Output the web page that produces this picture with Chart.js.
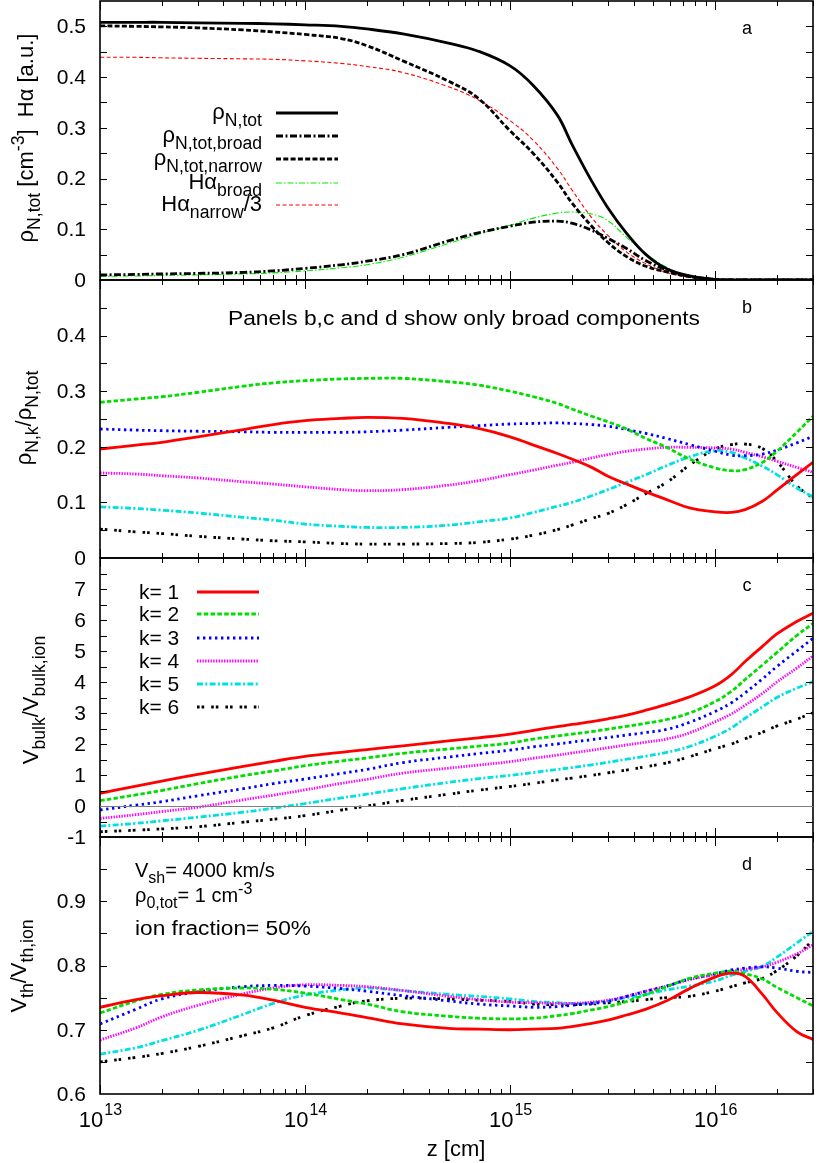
<!DOCTYPE html>
<html>
<head>
<meta charset="utf-8">
<script src="https://cdn.jsdelivr.net/npm/chart.js@4.4.1/dist/chart.umd.min.js"></script>
<style>
  body { margin: 0; background: #fff; }
  #wrap { position: relative; width: 830px; height: 1163px; }
  #wrap canvas { position: absolute; left: 0; top: 0; }
</style>
</head>
<body>
<div id="wrap">
  <canvas id="panelA" width="830" height="1163"></canvas>
  <canvas id="panelB" width="830" height="1163"></canvas>
  <canvas id="panelC" width="830" height="1163"></canvas>
  <canvas id="panelD" width="830" height="1163"></canvas>
</div>
<script>
// z positions (cm) shared by every curve
var zGrid = [1e13, 1.5e13, 2e13, 3e13, 5e13, 7e13,
             1e14, 1.5e14, 2e14, 3e14, 5e14, 7e14,
             1e15, 1.3e15, 1.7e15, 2e15, 2.5e15, 3e15, 3.7e15, 4.6e15, 5.8e15, 7.5e15,
             1e16, 1.2e16, 1.4e16, 1.7e16, 2e16, 2.5e16, 3e16];

// panel a
var rhoTot    = [0.508,0.508,0.508,0.507,0.506,0.505,0.503,0.500,0.495,0.485,0.467,0.451,0.422,0.383,0.325,0.268,0.195,0.142,0.092,0.050,0.022,0.008,0.001,0,0,0,0,0,0];
var rhoBroad  = [0.010,0.011,0.012,0.013,0.015,0.018,0.023,0.030,0.037,0.050,0.077,0.093,0.106,0.114,0.116,0.112,0.098,0.082,0.062,0.038,0.020,0.007,0.001,0,0,0,0,0,0];
var rhoNarrow = [0.501,0.500,0.499,0.497,0.493,0.489,0.484,0.476,0.462,0.432,0.392,0.358,0.294,0.249,0.193,0.152,0.106,0.074,0.046,0.027,0.016,0.007,0.001,0,0,0,0,0,0];
var haBroad   = [0.007,0.008,0.009,0.010,0.012,0.014,0.018,0.024,0.030,0.045,0.072,0.090,0.108,0.122,0.132,0.134,0.130,0.117,0.084,0.052,0.025,0.008,0.001,0,0,0,0,0,0];
var haNarrow3 = [0.439,0.439,0.438,0.437,0.436,0.435,0.432,0.427,0.421,0.409,0.381,0.355,0.314,0.275,0.220,0.178,0.123,0.088,0.055,0.032,0.015,0.005,0.001,0,0,0,0,0,0];

// panel b: rho_N,k / rho_N,tot
var fracK1 = [0.196,0.203,0.208,0.218,0.231,0.240,0.247,0.251,0.253,0.251,0.242,0.233,0.218,0.203,0.188,0.178,0.163,0.147,0.133,0.119,0.105,0.090,0.083,0.082,0.087,0.102,0.122,0.150,0.172];
var fracK2 = [0.280,0.286,0.290,0.298,0.309,0.315,0.319,0.322,0.323,0.323,0.317,0.311,0.300,0.290,0.278,0.268,0.255,0.245,0.232,0.215,0.199,0.178,0.162,0.157,0.159,0.172,0.192,0.226,0.255];
var fracK3 = [0.232,0.230,0.229,0.228,0.227,0.226,0.226,0.226,0.227,0.230,0.235,0.238,0.241,0.242,0.243,0.242,0.240,0.237,0.231,0.224,0.215,0.204,0.192,0.185,0.184,0.187,0.194,0.207,0.219];
var fracK4 = [0.153,0.151,0.148,0.144,0.137,0.133,0.128,0.123,0.121,0.123,0.131,0.139,0.150,0.158,0.167,0.172,0.180,0.186,0.192,0.196,0.199,0.199,0.198,0.196,0.190,0.182,0.174,0.163,0.154];
var fracK5 = [0.092,0.089,0.086,0.081,0.073,0.068,0.061,0.057,0.055,0.055,0.059,0.065,0.072,0.082,0.093,0.100,0.112,0.123,0.136,0.150,0.166,0.182,0.193,0.190,0.180,0.165,0.150,0.126,0.110];
var fracK6 = [0.052,0.047,0.044,0.039,0.034,0.031,0.029,0.026,0.025,0.025,0.026,0.028,0.034,0.041,0.051,0.059,0.071,0.080,0.096,0.116,0.136,0.167,0.196,0.204,0.205,0.197,0.174,0.130,0.108];

// panel c: V_bulk / V_bulk,ion
var bulkK1 = [0.41,0.64,0.80,1.02,1.28,1.44,1.60,1.73,1.82,1.94,2.10,2.20,2.32,2.44,2.56,2.63,2.72,2.81,2.93,3.09,3.28,3.52,3.88,4.24,4.66,5.15,5.55,5.95,6.22];
var bulkK2 = [0.17,0.36,0.50,0.72,0.98,1.13,1.30,1.45,1.55,1.70,1.84,1.93,2.03,2.16,2.26,2.32,2.40,2.48,2.57,2.67,2.79,3.00,3.37,3.70,4.08,4.55,4.95,5.50,5.89];
var bulkK3 = [-0.13,0.03,0.14,0.33,0.56,0.72,0.87,1.05,1.18,1.40,1.58,1.69,1.80,1.91,2.00,2.06,2.14,2.21,2.29,2.37,2.47,2.70,3.05,3.33,3.65,4.10,4.50,5.00,5.41];
var bulkK4 = [-0.40,-0.28,-0.18,-0.04,0.20,0.35,0.52,0.73,0.86,1.06,1.22,1.32,1.43,1.54,1.64,1.71,1.80,1.88,1.97,2.06,2.16,2.36,2.72,2.97,3.25,3.63,4.00,4.45,4.84];
var bulkK5 = [-0.65,-0.56,-0.48,-0.36,-0.20,-0.07,0.08,0.26,0.38,0.56,0.76,0.88,0.99,1.08,1.18,1.24,1.33,1.41,1.51,1.61,1.73,1.92,2.25,2.52,2.83,3.20,3.50,3.80,4.01];
var bulkK6 = [-0.83,-0.78,-0.74,-0.67,-0.52,-0.43,-0.31,-0.13,0.00,0.18,0.38,0.51,0.63,0.73,0.84,0.90,0.99,1.07,1.16,1.27,1.39,1.59,1.85,2.00,2.17,2.38,2.58,2.80,3.01];

// panel d: V_th / V_th,ion
var thK1 = [0.735,0.747,0.753,0.758,0.754,0.746,0.735,0.726,0.719,0.709,0.702,0.701,0.700,0.701,0.702,0.705,0.710,0.715,0.723,0.732,0.745,0.764,0.782,0.788,0.783,0.755,0.727,0.697,0.685];
var thK2 = [0.726,0.745,0.755,0.762,0.765,0.763,0.757,0.747,0.740,0.728,0.721,0.718,0.717,0.718,0.722,0.725,0.731,0.736,0.744,0.755,0.767,0.780,0.788,0.791,0.787,0.779,0.766,0.750,0.737];
var thK3 = [0.709,0.732,0.748,0.759,0.767,0.769,0.768,0.764,0.760,0.753,0.745,0.740,0.737,0.735,0.736,0.738,0.741,0.744,0.752,0.760,0.768,0.779,0.787,0.793,0.796,0.798,0.796,0.791,0.789];
var thK4 = [0.684,0.703,0.720,0.738,0.756,0.765,0.770,0.769,0.767,0.761,0.752,0.747,0.743,0.742,0.741,0.741,0.743,0.746,0.752,0.760,0.768,0.778,0.786,0.791,0.794,0.798,0.805,0.818,0.832];
var thK5 = [0.662,0.672,0.683,0.699,0.724,0.741,0.754,0.762,0.765,0.761,0.755,0.752,0.748,0.744,0.742,0.741,0.742,0.745,0.750,0.755,0.762,0.768,0.776,0.785,0.791,0.799,0.813,0.835,0.853];
var thK6 = [0.650,0.657,0.663,0.674,0.691,0.703,0.722,0.737,0.745,0.749,0.748,0.746,0.744,0.740,0.739,0.739,0.740,0.742,0.744,0.747,0.750,0.752,0.760,0.767,0.773,0.780,0.792,0.815,0.840];

// axis ticks
var xDecades = [13, 14, 15, 16];
var yLabelsA = [0, 0.1, 0.2, 0.3, 0.4, 0.5];
var yLabelsB = [0, 0.1, 0.2, 0.3, 0.4];
var yLabelsC = [-1, 0, 1, 2, 3, 4, 5, 6, 7];
var yLabelsD = [0.6, 0.7, 0.8, 0.9];
var kLabels = ['k= 1', 'k= 2', 'k= 3', 'k= 4', 'k= 5', 'k= 6'];

var FONT = '"Liberation Sans", Arial, Helvetica, sans-serif';
var PLOT_L = 100, PLOT_R = 813, W = 830, H = 1163;
var SUB = 0.8;

function pts(vals) {
  return zGrid.map(function (z, i) { return { x: z, y: vals[i] }; });
}

// text with sub/superscripts: parts = [[text, 'n'|'b'|'p'], ...]
function richWidth(ctx, parts, size) {
  var w = 0;
  parts.forEach(function (p) {
    var s = p[1] === 'n' ? size : size * SUB;
    ctx.font = s + 'px ' + FONT;
    w += ctx.measureText(p[0]).width;
  });
  return w;
}
function drawRich(ctx, parts, x, y, size, align, sx) {
  sx = sx || 1;
  var w = richWidth(ctx, parts, size) * sx;
  if (align === 'right') x -= w;
  else if (align === 'center') x -= w / 2;
  ctx.save();
  ctx.translate(x, y);
  ctx.scale(sx, 1);
  ctx.textAlign = 'left';
  ctx.textBaseline = 'alphabetic';
  var cx = 0;
  parts.forEach(function (p) {
    var s = p[1] === 'n' ? size : size * SUB;
    var dy = p[1] === 'b' ? size * 0.3 : (p[1] === 'p' ? -size * 0.42 : 0);
    ctx.font = s + 'px ' + FONT;
    ctx.fillText(p[0], cx, dy);
    cx += ctx.measureText(p[0]).width;
  });
  ctx.restore();
}
// plain text stretched to a given width
function drawFit(ctx, text, x, y, size, width, align) {
  ctx.font = size + 'px ' + FONT;
  var sx = width / ctx.measureText(text).width;
  drawRich(ctx, [[text, 'n']], x, y, size, align, sx);
}

function sampleLine(ctx, ds, x0, x1, y) {
  ctx.save();
  ctx.strokeStyle = ds.borderColor;
  ctx.lineWidth = ds.borderWidth;
  ctx.setLineDash(ds.borderDash || []);
  ctx.beginPath();
  ctx.moveTo(x0, y);
  ctx.lineTo(x1, y);
  ctx.stroke();
  ctx.restore();
}

// frame, inward ticks, tick labels, axis title, panel letter, extras
function framePlugin(o) {
  return {
    id: 'frame',
    afterDatasetsDraw: function (chart) {
      var ctx = chart.ctx, a = chart.chartArea;
      var xs = chart.scales.x, ys = chart.scales.y;
      ctx.save();
      ctx.strokeStyle = '#000';
      ctx.fillStyle = '#000';
      ctx.lineWidth = 1.6;
      ctx.strokeRect(a.left, a.top, a.right - a.left, a.bottom - a.top);

      // x ticks (top and bottom)
      ctx.lineWidth = 1;
      ctx.beginPath();
      xDecades.forEach(function (d) {
        for (var m = 1; m <= 9; m++) {
          var v = m * Math.pow(10, d);
          if (v > 3.0001e16) break;
          var px = Math.round(xs.getPixelForValue(v)) + 0.5;
          var len = m === 1 ? 9 : 5;
          ctx.moveTo(px, a.bottom); ctx.lineTo(px, a.bottom - len);
          ctx.moveTo(px, a.top); ctx.lineTo(px, a.top + len);
        }
      });
      // y ticks (left and right) every half step
      var n = Math.round((o.yMax - o.yMin) / o.yTick);
      for (var i = 1; i < n; i++) {
        var py = Math.round(ys.getPixelForValue(o.yMin + i * o.yTick)) + 0.5;
        ctx.moveTo(a.left, py); ctx.lineTo(a.left + 7, py);
        ctx.moveTo(a.right, py); ctx.lineTo(a.right - 7, py);
      }
      ctx.stroke();

      // y tick labels
      ctx.font = '21px ' + FONT;
      ctx.textAlign = 'right';
      ctx.textBaseline = 'middle';
      o.yLabels.forEach(function (v) {
        ctx.fillText(String(v), 86, ys.getPixelForValue(v) + 1);
      });

      // y axis title (rotated)
      ctx.save();
      ctx.translate(o.titleX, o.titleY);
      ctx.rotate(-Math.PI / 2);
      drawRich(ctx, o.title, 0, 0, 22, 'center');
      ctx.restore();

      // panel letter
      ctx.font = '18px ' + FONT;
      ctx.textAlign = 'center';
      ctx.textBaseline = 'alphabetic';
      ctx.fillText(o.letter, 747, a.top + 33);

      if (o.extra) o.extra(chart, ctx, a);
      ctx.restore();
    }
  };
}

function makePanel(id, top, bottom, yMin, yMax, datasets, frameOpts) {
  frameOpts.yMin = yMin;
  frameOpts.yMax = yMax;
  return new Chart(document.getElementById(id), {
    type: 'line',
    data: { datasets: datasets },
    options: {
      responsive: false,
      animation: false,
      events: [],
      layout: { padding: { left: PLOT_L, right: W - PLOT_R, top: top, bottom: H - bottom } },
      elements: { point: { radius: 0 }, line: { tension: 0.4, borderCapStyle: 'butt', borderJoinStyle: 'round' } },
      plugins: { legend: { display: false }, tooltip: { enabled: false } },
      scales: {
        x: { type: 'logarithmic', min: 1e13, max: 3e16, display: false },
        y: { type: 'linear', min: yMin, max: yMax, display: false }
      }
    },
    plugins: [framePlugin(frameOpts)]
  });
}

// k = 1..6 styles, shared by panels b, c, d
var kStyles = [
  { borderColor: '#ff0000', borderWidth: 2.8, borderDash: [] },
  { borderColor: '#00dd00', borderWidth: 2.8, borderDash: [4.5, 2.3] },
  { borderColor: '#0000ff', borderWidth: 2.8, borderDash: [2.4, 3.6] },
  { borderColor: '#ff00ff', borderWidth: 2.8, borderDash: [1.4, 1.3] },
  { borderColor: '#00e0e0', borderWidth: 2.8, borderDash: [6, 2.3, 2, 2.3] },
  { borderColor: '#000000', borderWidth: 2.8, borderDash: [2.6, 2, 2.6, 7] }
];
function kSets(series) {
  return series.map(function (vals, i) {
    return Object.assign({ label: kLabels[i], data: pts(vals) }, kStyles[i]);
  });
}

// ---- panel a ----
var setsA = [
  { label: 'rho N,tot', data: pts(rhoTot), borderColor: '#000', borderWidth: 2.8, borderDash: [] },
  { label: 'rho N,tot,broad', data: pts(rhoBroad), borderColor: '#000', borderWidth: 2.8, borderDash: [7, 2.5, 2, 2.5] },
  { label: 'rho N,tot,narrow', data: pts(rhoNarrow), borderColor: '#000', borderWidth: 2.8, borderDash: [5, 2.3] },
  { label: 'Halpha broad', data: pts(haBroad), borderColor: '#00ee00', borderWidth: 1.1, borderDash: [6, 2, 1.5, 2] },
  { label: 'Halpha narrow/3', data: pts(haNarrow3), borderColor: '#ff0000', borderWidth: 1.1, borderDash: [4, 2.5] }
];
var legendA = [
  [['ρ', 'n'], ['N,tot', 'b']],
  [['ρ', 'n'], ['N,tot,broad', 'b']],
  [['ρ', 'n'], ['N,tot,narrow', 'b']],
  [['Hα', 'n'], ['broad', 'b']],
  [['Hα', 'n'], ['narrow', 'b'], ['/3', 'n']]
];
var legendRowsA = [113, 136, 159, 183, 205];

makePanel('panelA', 1, 280, 0, 0.55, setsA, {
  yTick: 0.05, yLabels: yLabelsA, letter: 'a',
  title: [['ρ', 'n'], ['N,tot', 'b'], [' [cm', 'n'], ['-3', 'p'], [']  Hα [a.u.]', 'n']],
  titleX: 33, titleY: 138,
  extra: function (chart, ctx) {
    legendA.forEach(function (parts, i) {
      ctx.fillStyle = '#000';
      drawRich(ctx, parts, 262, legendRowsA[i] + 6, 22, 'right');
      sampleLine(ctx, chart.data.datasets[i], 276, 338, legendRowsA[i]);
    });
  }
});

// ---- panel b ----
makePanel('panelB', 280, 558, 0, 0.5, kSets([fracK1, fracK2, fracK3, fracK4, fracK5, fracK6]), {
  yTick: 0.05, yLabels: yLabelsB, letter: 'b',
  title: [['ρ', 'n'], ['N,k', 'b'], ['/ρ', 'n'], ['N,tot', 'b']],
  titleX: 31, titleY: 418,
  extra: function (chart, ctx) {
    ctx.fillStyle = '#000';
    drawFit(ctx, 'Panels b,c and d show only broad components', 464, 325, 20.5, 472, 'center');
  }
});

// ---- panel c ----
var legendRowsC = [592, 614, 638, 661, 684, 707];
makePanel('panelC', 558, 837, -1, 8, kSets([bulkK1, bulkK2, bulkK3, bulkK4, bulkK5, bulkK6]), {
  yTick: 0.5, yLabels: yLabelsC, letter: 'c',
  title: [['V', 'n'], ['bulk', 'b'], ['/V', 'n'], ['bulk,ion', 'b']],
  titleX: 38, titleY: 700,
  extra: function (chart, ctx, a) {
    var ys = chart.scales.y;
    var y0 = Math.round(ys.getPixelForValue(0)) + 0.5;
    ctx.strokeStyle = '#808080';
    ctx.lineWidth = 1;
    ctx.beginPath();
    ctx.moveTo(a.left, y0); ctx.lineTo(a.right, y0);
    ctx.stroke();
    kLabels.forEach(function (t, i) {
      ctx.fillStyle = '#000';
      ctx.font = '21px ' + FONT;
      ctx.textAlign = 'left';
      ctx.textBaseline = 'middle';
      ctx.fillText(t, 139, legendRowsC[i] + 1);
      sampleLine(ctx, chart.data.datasets[i], 197, 259, legendRowsC[i]);
    });
  }
});

// ---- panel d ----
makePanel('panelD', 837, 1094, 0.6, 1.0, kSets([thK1, thK2, thK3, thK4, thK5, thK6]), {
  yTick: 0.05, yLabels: yLabelsD, letter: 'd',
  title: [['V', 'n'], ['th', 'b'], ['/V', 'n'], ['th,ion', 'b']],
  titleX: 26, titleY: 966,
  extra: function (chart, ctx, a) {
    var xs = chart.scales.x;
    ctx.fillStyle = '#000';
    drawRich(ctx, [['V', 'n'], ['sh', 'b'], ['= 4000 km/s', 'n']], 135, 877, 20, 'left');
    drawRich(ctx, [['ρ', 'n'], ['0,tot', 'b'], ['= 1 cm', 'n'], ['-3', 'p']], 135, 902, 20, 'left');
    drawFit(ctx, 'ion fraction= 50%', 135, 935, 20, 176, 'left');
    // x tick labels 10^n
    xDecades.forEach(function (d) {
      var px = xs.getPixelForValue(Math.pow(10, d));
      var w1, w2;
      ctx.font = '22px ' + FONT; w1 = ctx.measureText('10').width;
      ctx.font = '16px ' + FONT; w2 = ctx.measureText(String(d)).width;
      var x0 = px - (w1 + w2) / 2;
      ctx.textAlign = 'left';
      ctx.textBaseline = 'alphabetic';
      ctx.font = '22px ' + FONT; ctx.fillText('10', x0, 1127);
      ctx.font = '16px ' + FONT; ctx.fillText(String(d), x0 + w1 + 1, 1115);
    });
    ctx.font = '22px ' + FONT;
    ctx.textAlign = 'center';
    ctx.fillText('z [cm]', 456, 1156);
  }
});
</script>
</body>
</html>
